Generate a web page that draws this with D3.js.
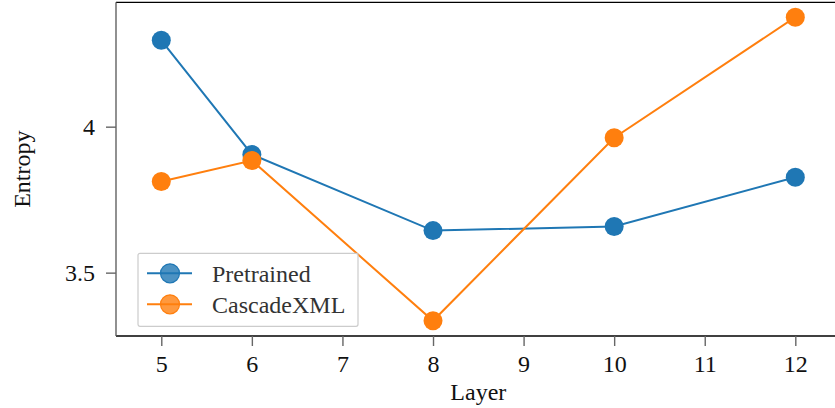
<!DOCTYPE html>
<html>
<head>
<meta charset="utf-8">
<script src="https://cdn.jsdelivr.net/npm/d3@7"></script>
<style>
  body { margin: 0; background: #fff; }
  text { font-family: "Liberation Serif", "DejaVu Serif", serif; }
</style>
</head>
<body>
<div class="entropy-chart"></div>
<script>
// data
var layers = [5, 6, 8, 10, 12];
var pretrained = [4.296, 3.905, 3.644, 3.658, 3.827];
var cascadeXML = [3.812, 3.884, 3.335, 3.962, 4.375];
var xTicks = [5, 6, 7, 8, 9, 10, 11, 12];
var yTicks = [3.5, 4];

var series = [
    {name: "Pretrained", values: pretrained, color: "#1f77b4"},
    {name: "CascadeXML", values: cascadeXML, color: "#ff7f0e"}
];

var margin = {top: 2.3, right: 0, bottom: 72, left: 116},
    totalWidth = 835, totalHeight = 408,
    height = totalHeight - margin.top - margin.bottom;

// x axis runs a bit past the window edge (cropped like the original)
var x = d3.scaleLinear().domain([4.5, 12.5]).range([0, 724.6]);
var y = d3.scaleLinear().domain([3.283, 4.426]).range([height, 0]);

var svg = d3.select(".entropy-chart").append("svg")
    .attr("width", totalWidth)
    .attr("height", totalHeight)
  .append("g")
    .attr("transform", `translate(${margin.left}, ${margin.top})`);

// spines
svg.append("line")
    .attr("x1", 0).attr("x2", 730).attr("y1", 0).attr("y2", 0)
    .style("stroke", "#000").style("stroke-width", 1.3);
svg.append("line")
    .attr("x1", 0).attr("x2", 730).attr("y1", height).attr("y2", height)
    .style("stroke", "#000").style("stroke-width", 1.3);
svg.append("line")
    .attr("x1", 0).attr("x2", 0).attr("y1", 0).attr("y2", height)
    .style("stroke", "#555").style("stroke-width", 1.3);

// x axis
var xAxis = svg.append("g")
    .attr("transform", `translate(0, ${height})`)
    .call(d3.axisBottom(x).tickValues(xTicks).tickSize(10).tickPadding(9).tickFormat(d3.format("d")));
xAxis.select(".domain").remove();
xAxis.selectAll(".tick line").style("stroke", "#666").style("stroke-width", 1.4);
xAxis.selectAll(".tick text").style("font-size", "24px").style("fill", "#111")
    .style("font-family", "'Liberation Serif', serif");

svg.append("text")
    .attr("x", x(8.5))
    .attr("y", totalHeight - margin.top - 8)
    .style("text-anchor", "middle")
    .style("font-size", "24px")
    .style("fill", "#111")
    .text("Layer");

// y axis
var yAxis = svg.append("g")
    .call(d3.axisLeft(y).tickValues(yTicks).tickSize(10).tickPadding(11).tickFormat(function(d) { return d === 4 ? "4" : d3.format(".1f")(d); }));
yAxis.select(".domain").remove();
yAxis.selectAll(".tick line").style("stroke", "#666").style("stroke-width", 1.4);
yAxis.selectAll(".tick text").style("font-size", "24px").style("fill", "#111")
    .style("font-family", "'Liberation Serif', serif");

svg.append("text")
    .attr("transform", "rotate(-90)")
    .attr("x", 0 - height / 2)
    .attr("y", 0 - margin.left + 30)
    .style("text-anchor", "middle")
    .style("font-size", "24px")
    .style("fill", "#111")
    .text("Entropy");

// lines + markers
var line = d3.line()
    .x(function(d, i) { return x(layers[i]); })
    .y(function(d) { return y(d); });

series.forEach(function(s) {
    svg.append("path")
        .datum(s.values)
        .attr("d", line)
        .style("fill", "none")
        .style("stroke", s.color)
        .style("stroke-width", 2);
    svg.selectAll(null)
        .data(s.values)
        .enter().append("circle")
        .attr("cx", function(d, i) { return x(layers[i]); })
        .attr("cy", function(d) { return y(d); })
        .attr("r", 9.5)
        .style("fill", s.color);
});

// legend
var legend = svg.append("g")
    .attr("transform", "translate(22, 251)");
legend.append("rect")
    .attr("width", 220)
    .attr("height", 73)
    .attr("rx", 2)
    .style("fill", "rgba(255,255,255,0.8)")
    .style("stroke", "#ccc")
    .style("stroke-width", 1.2);

series.forEach(function(s, i) {
    var row = legend.append("g")
        .attr("transform", `translate(0, ${20 + i * 31})`);
    row.append("line")
        .attr("x1", 9).attr("x2", 54)
        .style("stroke", s.color).style("stroke-width", 2);
    row.append("circle")
        .attr("cx", 32).attr("r", 9.5)
        .style("fill", s.color)
        .style("fill-opacity", 0.8)
        .style("stroke", s.color)
        .style("stroke-width", 1.2);
    row.append("text")
        .attr("x", 74)
        .attr("dy", "0.35em")
        .style("font-size", "24px")
        .style("fill", "#333")
        .text(s.name);
});
</script>
</body>
</html>
